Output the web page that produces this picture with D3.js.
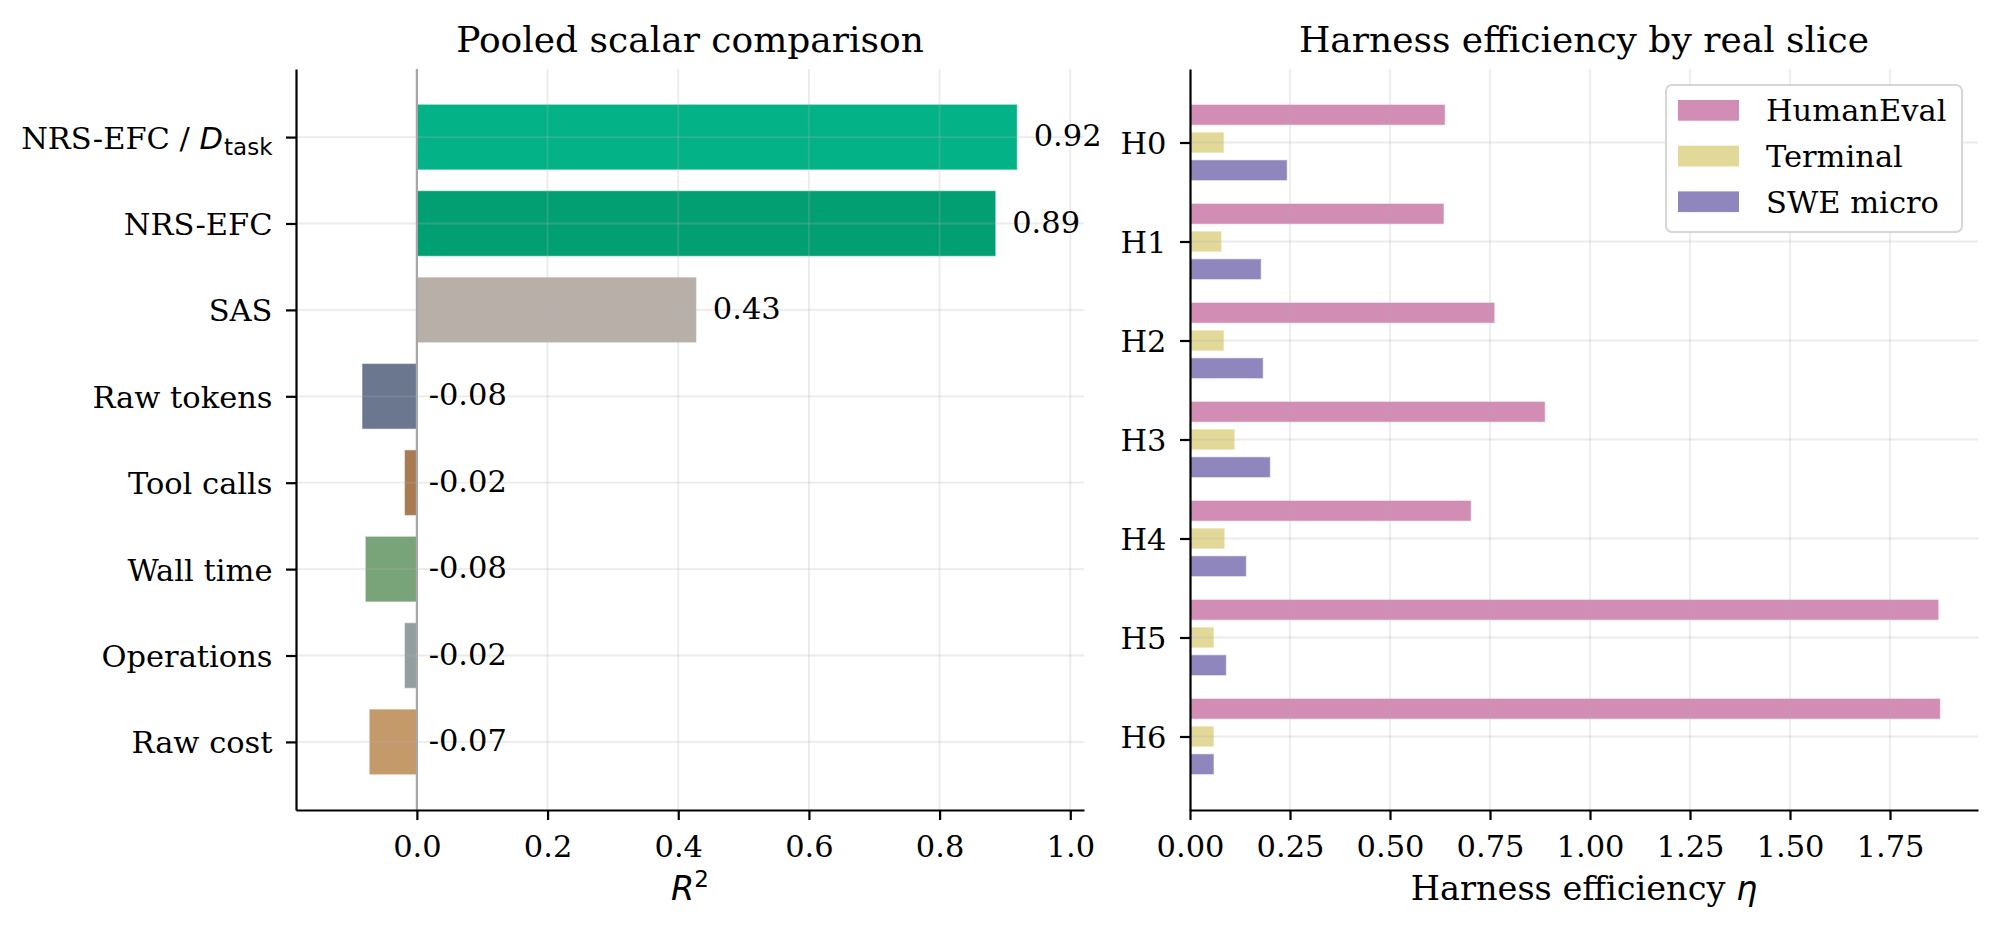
<!DOCTYPE html>
<html>
<head>
<meta charset="utf-8">
<script src="https://cdn.jsdelivr.net/npm/d3@7"></script>
<style>
  body { margin: 0; background: #fff; }
  svg text { font-family: "DejaVu Serif", serif; fill: #000; }
  .math { font-family: "DejaVu Sans", sans-serif; }
</style>
</head>
<body>
<div id="chart"></div>
<script>
// Left panel: pooled scalar comparison (R^2)
const scalarNames = ["NRS-EFC / D_task", "NRS-EFC", "SAS", "Raw tokens", "Tool calls", "Wall time", "Operations", "Raw cost"];
const scalarR2 = [0.919, 0.886, 0.428, -0.084, -0.019, -0.079, -0.019, -0.073];
const scalarLabels = ["0.92", "0.89", "0.43", "-0.08", "-0.02", "-0.08", "-0.02", "-0.07"];
const scalarColors = ["#03b387", "#029f72", "#b8afa8", "#6b778f", "#a87b52", "#79a379", "#939f9f", "#c59a6b"];
const r2Ticks = [0, 0.2, 0.4, 0.6, 0.8, 1.0];

// Right panel: harness efficiency by slice
const harnesses = ["H0", "H1", "H2", "H3", "H4", "H5", "H6"];
const sliceNames = ["HumanEval", "Terminal", "SWE micro"];
const sliceColors = ["#d18db3", "#e2d897", "#8e86bc"];
const humanEvalEta = [0.638, 0.635, 0.762, 0.888, 0.703, 1.872, 1.876];
const terminalEta = [0.085, 0.079, 0.085, 0.112, 0.087, 0.060, 0.060];
const sweMicroEta = [0.243, 0.178, 0.183, 0.201, 0.141, 0.091, 0.060];
const etaTicks = [0, 0.25, 0.5, 0.75, 1.0, 1.25, 1.5, 1.75];

const W = 2000, H = 935;
const plotTop = 69, plotBottom = 810;
const left1 = 296, right1 = 1084;
const left2 = 1190, right2 = 1978;
const tickFont = 30.5, labelFont = 33.5, titleFont = 36;

const svg = d3.select('#chart')
    .append('svg')
    .attr('width', W)
    .attr('height', H);

// shared axis styling (matplotlib-ish)
const styleAxis = (g) => {
    g.select('.domain').attr('stroke', '#000').attr('stroke-width', 2.2);
    g.selectAll('.tick line').attr('stroke', '#000').attr('stroke-width', 2.2);
    g.selectAll('.tick text')
        .attr('fill', '#000')
        .style('font-family', '"DejaVu Serif", serif')
        .style('font-size', tickFont + 'px');
};

const gridColor = '#b0b0b0';

// ================= LEFT PANEL =================
const x1 = d3.scaleLinear().domain([-0.185, 1.021]).range([left1, right1]);
const y1 = d3.scaleLinear().domain([-0.788, scalarNames.length - 1 + 0.788]).range([plotTop, plotBottom]);
const barH1 = 0.76;

const p1 = svg.append('g');

p1.append('g')
    .selectAll('rect')
    .data(scalarR2)
    .enter()
    .append('rect')
    .attr('x', d => x1(Math.min(0, d)))
    .attr('width', d => Math.abs(x1(d) - x1(0)))
    .attr('y', (d, i) => y1(i - barH1 / 2))
    .attr('height', y1(barH1) - y1(0))
    .attr('fill', (d, i) => scalarColors[i])
    .attr('stroke', '#fff')
    .attr('stroke-opacity', 0.5)
    .attr('stroke-width', 1.2);

// grid (drawn above bars, like matplotlib default)
const grid1 = p1.append('g').attr('stroke', gridColor).attr('stroke-opacity', 0.25).attr('stroke-width', 1.8);
grid1.selectAll('.gx').data(r2Ticks).enter().append('line')
    .attr('x1', d => x1(d)).attr('x2', d => x1(d))
    .attr('y1', plotTop).attr('y2', plotBottom);
grid1.selectAll('.gy').data(scalarNames).enter().append('line')
    .attr('x1', left1).attr('x2', right1)
    .attr('y1', (d, i) => y1(i)).attr('y2', (d, i) => y1(i));

// zero line
p1.append('line')
    .attr('x1', x1(0)).attr('x2', x1(0))
    .attr('y1', plotTop).attr('y2', plotBottom)
    .attr('stroke', '#a6a6a6')
    .attr('stroke-width', 2.2);

// value labels
p1.append('g')
    .selectAll('text')
    .data(scalarR2)
    .enter()
    .append('text')
    .attr('x', d => d > 0 ? x1(d + 0.025) : x1(0.018))
    .attr('y', (d, i) => y1(i))
    .attr('dy', '0.3em')
    .style('font-size', tickFont + 'px')
    .text((d, i) => scalarLabels[i]);

// axes
const xAxis1 = p1.append('g')
    .attr('transform', `translate(0,${plotBottom})`)
    .call(d3.axisBottom(x1).tickValues(r2Ticks).tickFormat(d3.format('.1f')).tickSize(10).tickSizeOuter(0).tickPadding(15));
styleAxis(xAxis1);

const yAxis1 = p1.append('g')
    .attr('transform', `translate(${left1},0)`)
    .call(d3.axisLeft(y1).tickValues(d3.range(scalarNames.length)).tickFormat(i => scalarNames[i]).tickSize(10).tickSizeOuter(0).tickPadding(13.5));
styleAxis(yAxis1);
yAxis1.selectAll('.tick text').attr('dy', '0.36em');

// mathtext-like label for "NRS-EFC / D_task"
yAxis1.selectAll('.tick text')
    .filter(i => scalarNames[i].includes('_'))
    .each(function (i) {
        const [pre, sub] = scalarNames[i].split('_');
        const t = d3.select(this).text(null);
        t.append('tspan').text(pre.slice(0, -1));
        t.append('tspan').attr('class', 'math').style('font-style', 'italic').text(pre.slice(-1));
        t.append('tspan').attr('class', 'math').attr('dx', 1).attr('dy', 6).style('font-size', '23px').text(sub);
    });

// title + x label
svg.append('text')
    .attr('x', (left1 + right1) / 2).attr('y', 52)
    .attr('text-anchor', 'middle')
    .style('font-size', titleFont + 'px')
    .text('Pooled scalar comparison');

const r2Label = svg.append('text')
    .attr('class', 'math')
    .attr('x', (left1 + right1) / 2).attr('y', 900)
    .attr('text-anchor', 'middle')
    .style('font-size', labelFont + 'px');
r2Label.append('tspan').style('font-style', 'italic').text('R');
r2Label.append('tspan').attr('dy', -13).style('font-size', '23px').text('2');

// ================= RIGHT PANEL =================
const sliceData = [humanEvalEta, terminalEta, sweMicroEta];
const x2 = d3.scaleLinear().domain([0, 1.97]).range([left2, right2]);
const y2 = d3.scaleLinear().domain([-0.7425, harnesses.length - 1 + 0.7425]).range([plotTop, plotBottom]);
const barH2 = 0.21, offset2 = 0.28;

const p2 = svg.append('g');

p2.append('g')
    .selectAll('g')
    .data(sliceData)
    .enter()
    .append('g')
    .attr('fill', (d, s) => sliceColors[s])
    .each(function (vals, s) {
        d3.select(this).selectAll('rect')
            .data(vals)
            .enter()
            .append('rect')
            .attr('x', x2(0))
            .attr('width', d => x2(d) - x2(0))
            .attr('y', (d, i) => y2(i + (s - 1) * offset2 - barH2 / 2))
            .attr('height', y2(barH2) - y2(0))
            .attr('stroke', '#fff')
            .attr('stroke-opacity', 0.5)
            .attr('stroke-width', 1.2);
    });

const grid2 = p2.append('g').attr('stroke', gridColor).attr('stroke-opacity', 0.25).attr('stroke-width', 1.8);
grid2.selectAll('.gx').data(etaTicks.slice(1)).enter().append('line')
    .attr('x1', d => x2(d)).attr('x2', d => x2(d))
    .attr('y1', plotTop).attr('y2', plotBottom);
grid2.selectAll('.gy').data(harnesses).enter().append('line')
    .attr('x1', left2).attr('x2', right2)
    .attr('y1', (d, i) => y2(i)).attr('y2', (d, i) => y2(i));

const xAxis2 = p2.append('g')
    .attr('transform', `translate(0,${plotBottom})`)
    .call(d3.axisBottom(x2).tickValues(etaTicks).tickFormat(d3.format('.2f')).tickSize(10).tickSizeOuter(0).tickPadding(15));
styleAxis(xAxis2);

const yAxis2 = p2.append('g')
    .attr('transform', `translate(${left2},0)`)
    .call(d3.axisLeft(y2).tickValues(d3.range(harnesses.length)).tickFormat(i => harnesses[i]).tickSize(10).tickSizeOuter(0).tickPadding(13.5));
styleAxis(yAxis2);
yAxis2.selectAll('.tick text').attr('dy', '0.36em');

svg.append('text')
    .attr('x', (left2 + right2) / 2).attr('y', 52)
    .attr('text-anchor', 'middle')
    .style('font-size', titleFont + 'px')
    .text('Harness efficiency by real slice');

const etaLabel = svg.append('text')
    .attr('x', (left2 + right2) / 2).attr('y', 900)
    .attr('text-anchor', 'middle')
    .style('font-size', labelFont + 'px');
etaLabel.append('tspan').text('Harness efficiency ');
etaLabel.append('tspan').attr('class', 'math').style('font-style', 'italic').text('η');

// legend
const legend = svg.append('g').attr('transform', 'translate(1666,85)');
legend.append('rect')
    .attr('width', 296).attr('height', 147)
    .attr('rx', 6)
    .attr('fill', '#fff').attr('fill-opacity', 0.9)
    .attr('stroke', '#d6d6d6').attr('stroke-width', 2);
const items = legend.selectAll('.item')
    .data(sliceNames)
    .enter()
    .append('g')
    .attr('transform', (d, i) => `translate(0,${25.3 + i * 45.7})`);
items.append('rect')
    .attr('x', 12).attr('y', -10.3)
    .attr('width', 61).attr('height', 20.7)
    .attr('fill', (d, i) => sliceColors[i]);
items.append('text')
    .attr('x', 100).attr('dy', '0.36em')
    .style('font-size', tickFont + 'px')
    .text(d => d);
</script>
</body>
</html>
